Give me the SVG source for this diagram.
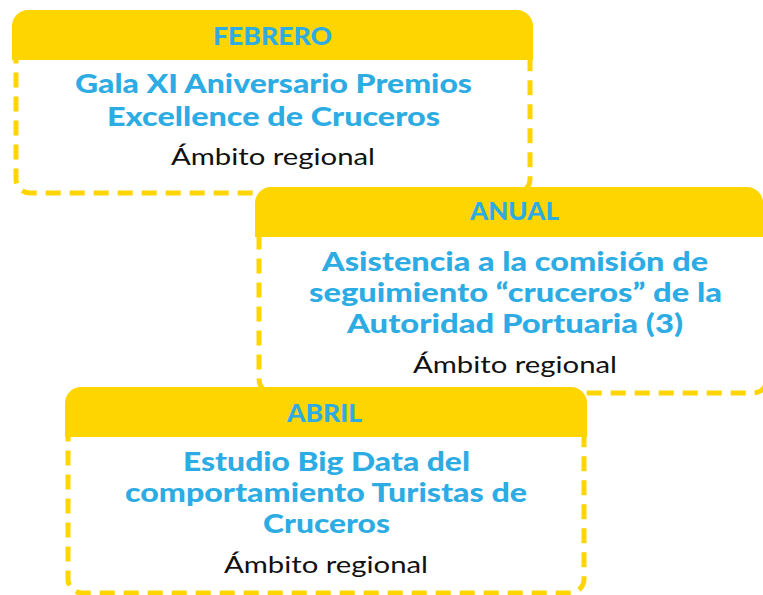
<svg xmlns="http://www.w3.org/2000/svg" width="763" height="595" viewBox="0 0 763 595">
<style>
.box{fill:#fff;stroke:#FFD500;stroke-width:5;stroke-dasharray:15 9}
.hdr{fill:#FFD500}
.h{font-family:Lato,"Open Sans",sans-serif;font-weight:900;font-size:24px;fill:#2DACE4;text-anchor:middle}
.t{font-family:Lato,"Open Sans",sans-serif;font-weight:900;font-size:26px;fill:#2DACE4;text-anchor:middle}
.s{font-family:Lato,"Open Sans",sans-serif;font-weight:400;font-size:23px;fill:#111;text-anchor:middle}
</style>
<rect width="763" height="595" fill="#fff"/>
<g id="node-febrero">
<rect class="box" x="16" y="22" width="514" height="171" rx="14"/>
<path class="hdr" d="M12,60 V26 A16,16 0 0 1 28,10 H517 A16,16 0 0 1 533,26 V60 Z"/>
<text class="h" x="272.5" y="45" textLength="119" lengthAdjust="spacingAndGlyphs">FEBRERO</text>
<text class="t" x="273.5" y="93" textLength="397" lengthAdjust="spacingAndGlyphs">Gala XI Aniversario Premios</text>
<text class="t" x="273.5" y="126" textLength="333" lengthAdjust="spacingAndGlyphs">Excellence de Cruceros</text>
<text class="s" x="273" y="165" textLength="204" lengthAdjust="spacingAndGlyphs">Ámbito regional</text>
</g>
<g id="node-anual">
<rect class="box" x="259" y="200" width="508" height="193" rx="14"/>
<path class="hdr" d="M255,237 V203 A16,16 0 0 1 271,187 H747 A16,16 0 0 1 763,203 V237 Z"/>
<text class="h" x="514.5" y="220" textLength="89" lengthAdjust="spacingAndGlyphs">ANUAL</text>
<text class="t" x="515" y="271" textLength="386" lengthAdjust="spacingAndGlyphs">Asistencia a la comisión de</text>
<text class="t" x="515.5" y="302" textLength="413" lengthAdjust="spacingAndGlyphs">seguimiento “cruceros” de la</text>
<text class="t" x="515" y="333" textLength="336" lengthAdjust="spacingAndGlyphs">Autoridad Portuaria (3)</text>
<text class="s" x="515" y="373" textLength="204" lengthAdjust="spacingAndGlyphs">Ámbito regional</text>
</g>
<g id="node-abril">
<rect class="box" x="68" y="400" width="516" height="193" rx="14"/>
<path class="hdr" d="M65,437 V403 A16,16 0 0 1 81,387 H571 A16,16 0 0 1 587,403 V437 Z"/>
<text class="h" x="324.5" y="422" textLength="75" lengthAdjust="spacingAndGlyphs">ABRIL</text>
<text class="t" x="326.5" y="471" textLength="287" lengthAdjust="spacingAndGlyphs">Estudio Big Data del</text>
<text class="t" x="326" y="502" textLength="402" lengthAdjust="spacingAndGlyphs">comportamiento Turistas de</text>
<text class="t" x="326.5" y="533" textLength="127" lengthAdjust="spacingAndGlyphs">Cruceros</text>
<text class="s" x="326" y="573" textLength="204" lengthAdjust="spacingAndGlyphs">Ámbito regional</text>
</g>
<g id="connectors"/>
</svg>
